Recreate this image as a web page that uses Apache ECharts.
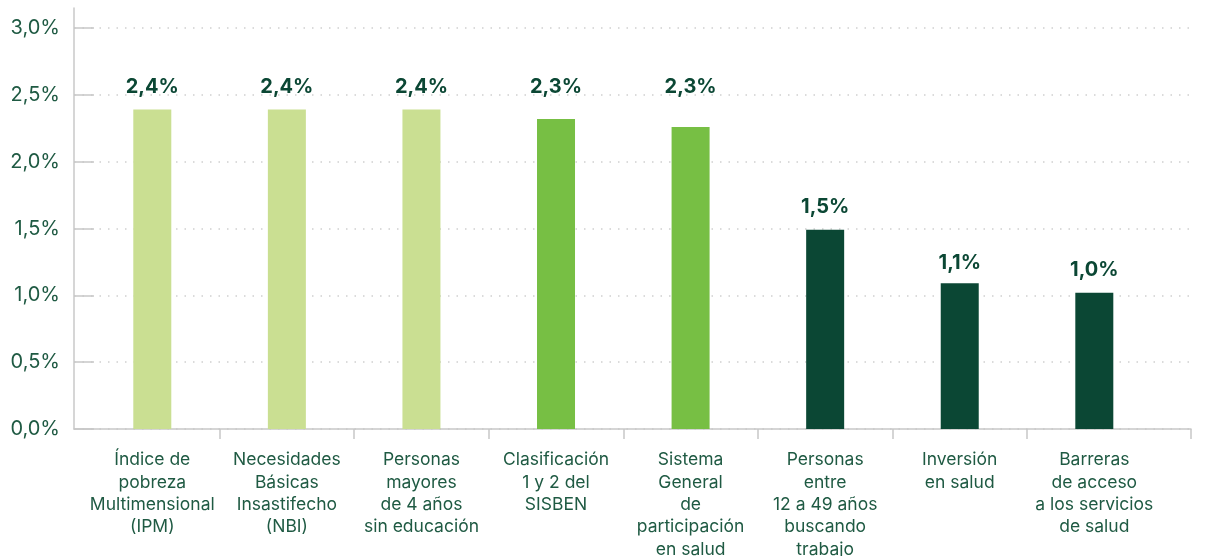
<!DOCTYPE html>
<html>
<head>
<meta charset="utf-8">
<script src="https://cdn.jsdelivr.net/npm/echarts@6/dist/echarts.min.js"></script>
<style>
  html, body { margin: 0; padding: 0; background: #fff; }
  #chart1 { width: 1212px; height: 556px; }
</style>
</head>
<body>
<div id="chart1"></div>
<script>
// categorias (con saltos de linea como en el original)
var categorias = [
  'Índice de\npobreza\nMultimensional\n(IPM)',
  'Necesidades\nBásicas\nInsastifecho\n(NBI)',
  'Personas\nmayores\nde 4 años\nsin educación',
  'Clasificación\n1 y 2 del\nSISBEN',
  'Sistema\nGeneral\nde\nparticipación\nen salud',
  'Personas\nentre\n12 a 49 años\nbuscando\ntrabajo',
  'Inversión\nen salud',
  'Barreras\nde acceso\na los servicios\nde salud'
];
var valores = [2.39, 2.39, 2.39, 2.32, 2.26, 1.49, 1.09, 1.02];
var grupos = [0, 0, 0, 1, 1, 2, 2, 2];
var ticksY = [0, 0.5, 1, 1.5, 2, 2.5, 3];

var colores = ['#cadf92', '#77bf44', '#0b4734'];
var fuente = 'Inter';
// ajuste vertical de las etiquetas (en el original estan alineadas a mano)
var ajusteEtiqueta = [0, 0, 0, -9, -17, 0, 3, 0];

function pct(v) {
  return v.toFixed(1).replace('.', ',') + '%';
}

var posiciones = categorias.map(function (c, i) { return i; });
var limites = [];
for (var k = 0; k < categorias.length - 1; k++) limites.push(k + 0.5);

var xMin = -0.5818, xMax = 7.7185;
limites.push(xMax);

var myChart = echarts.init(document.getElementById('chart1'));
var option = {
  animation: false,
  grid: {
    left: 74,
    right: 21,
    top: 8,
    bottom: 127,
    containLabel: false,
    outerBoundsMode: 'none'
  },
  xAxis: {
    type: 'value',
    min: xMin,
    max: xMax,
    splitLine: { show: false },
    axisLine: { show: true, onZero: false, lineStyle: { color: '#c8c8c8', width: 1.5 } },
    axisTick: {
      show: true,
      length: 10,
      customValues: limites,
      lineStyle: { color: '#c8c8c8', width: 1.5 }
    },
    axisLabel: {
      customValues: posiciones,
      margin: 20,
      color: '#1f5a43',
      fontFamily: fuente,
      fontSize: 17.5,
      lineHeight: 22.3,
      align: 'center',
      formatter: function (v) {
        var i = Math.round(v);
        return categorias[i] || '';
      }
    }
  },
  yAxis: {
    type: 'value',
    min: 0,
    max: 3.15,
    interval: 0.5,
    axisLine: { show: true, onZero: false, lineStyle: { color: '#c8c8c8', width: 1.5 } },
    axisTick: {
      show: true,
      inside: true,
      length: 20,
      customValues: ticksY,
      lineStyle: { color: '#c8c8c8', width: 1.5 }
    },
    splitLine: {
      show: true,
      lineStyle: { color: '#cfcfcf', type: [1.5, 7], width: 1.5 }
    },
    axisLabel: {
      customValues: ticksY,
      margin: 14,
      color: '#1f5a43',
      fontFamily: fuente,
      fontSize: 20,
      formatter: function (v) { return pct(v); }
    }
  },
  series: [
    {
      type: 'bar',
      barWidth: 38,
      data: valores.map(function (v, i) {
        return {
          value: [i, v],
          itemStyle: { color: colores[grupos[i]] },
          label: { offset: [0, ajusteEtiqueta[i]] }
        };
      }),
      label: {
        show: true,
        position: 'top',
        distance: 13,
        color: '#0b4734',
        fontFamily: fuente,
        fontSize: 20,
        fontWeight: 'bold',
        formatter: function (p) { return pct(p.value[1]); }
      }
    }
  ]
};
myChart.setOption(option);
</script>
</body>
</html>
